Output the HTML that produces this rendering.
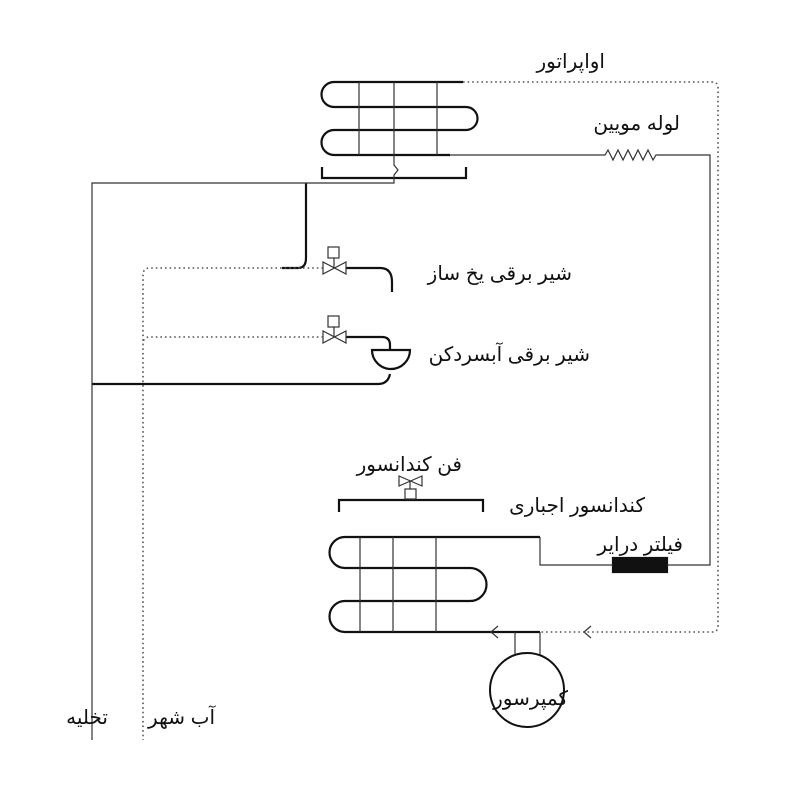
<!DOCTYPE html>
<html><head><meta charset="utf-8"><style>
html,body{margin:0;padding:0;background:#fff;width:787px;height:805px;overflow:hidden}
text{font-family:"Liberation Sans","DejaVu Sans",sans-serif;font-size:20px;fill:#111}
</style></head><body>
<svg width="787" height="805" viewBox="0 0 787 805" xmlns="http://www.w3.org/2000/svg">
<g fill="none" stroke="#111" stroke-width="2.2">
<path d="M463 82 H334 A12.5 12.5 0 0 0 334 107 H466 A11.5 11.5 0 0 1 466 130 H334 A12.5 12.5 0 0 0 334 155 H450"/>
<path d="M322 167 V178 H466 V167"/>
<path d="M540 537 H345 A15.5 15.5 0 0 0 345 568 H470 A16.5 16.5 0 0 1 470 601 H345 A15.5 15.5 0 0 0 345 632 H540"/>
<path d="M339 512 V500 H483 V512"/>
<path d="M282 268 H298 Q306 268 306 258 V183"/>
<path d="M346 268 H380 Q392 268 392 282 V292"/>
<path d="M346 337 H382 Q390 337 390 345 V350"/>
<path d="M92 384 H378 Q388 384 390 374"/>
<path d="M372 350 H410 A19 19 0 0 1 372 350 Z"/>
<rect x="613" y="558" width="54" height="14" fill="#111"/>
</g>
<g fill="none" stroke="#333" stroke-width="1.2">
<path d="M359 82 V155 M394 82 V165 l4 5 -4 5 V183 H92 V740 M437 82 V155"/>
<path d="M450 155 H605 l3 -5 5 10 5 -10 5 10 5 -10 5 10 5 -10 5 10 5 -10 5 10 3 -5 H710 V565 H667"/>
<path d="M613 565 H540 V537"/>
<path d="M360 537 V632 M393 537 V632 M436 537 V632"/>
<path d="M515 632 V655 M540 632 V655"/>
<circle cx="527" cy="690" r="37" stroke="#111" stroke-width="2"/>
<path d="M498 626 l-7 6 7 6 M591 626 l-7 6 7 6"/>
<path d="M323 262 V274 L346 262 V274 Z M334 268 V258"/>
<rect x="328" y="247" width="11" height="11"/>
<path d="M323 331 V343 L346 331 V343 Z M334 337 V327"/>
<rect x="328" y="316" width="11" height="11"/>
<path d="M399 476 V486 L422 476 V486 Z M410 481 V489"/>
<rect x="405" y="489" width="11" height="10"/>
</g>
<g fill="none" stroke="#555" stroke-width="1.6" stroke-dasharray="1.6 3">
<path d="M463 82 H712 Q718 82 718 88 V626 Q718 632 712 632 H540"/>
<path d="M323 268 H150 Q143 268 143 275 V740"/>
<path d="M323 337 H150 Q143 337 143 344"/>
</g>
<text x="605" y="68" text-anchor="end">اواپراتور</text>
<text x="680" y="130" text-anchor="end">لوله مویین</text>
<text x="572" y="280" text-anchor="end">شیر برقی یخ ساز</text>
<text x="590" y="361" text-anchor="end">شیر برقی آبسردکن</text>
<text x="462" y="471" text-anchor="end">فن کندانسور</text>
<text x="645" y="512" text-anchor="end">کندانسور اجباری</text>
<text x="683" y="551" text-anchor="end">فیلتر درایر</text>
<text x="568" y="705" text-anchor="end">کمپرسور</text>
<text x="215" y="724" text-anchor="end">آب شهر</text>
<text x="108" y="724" text-anchor="end">تخلیه</text>
</svg>
</body></html>
